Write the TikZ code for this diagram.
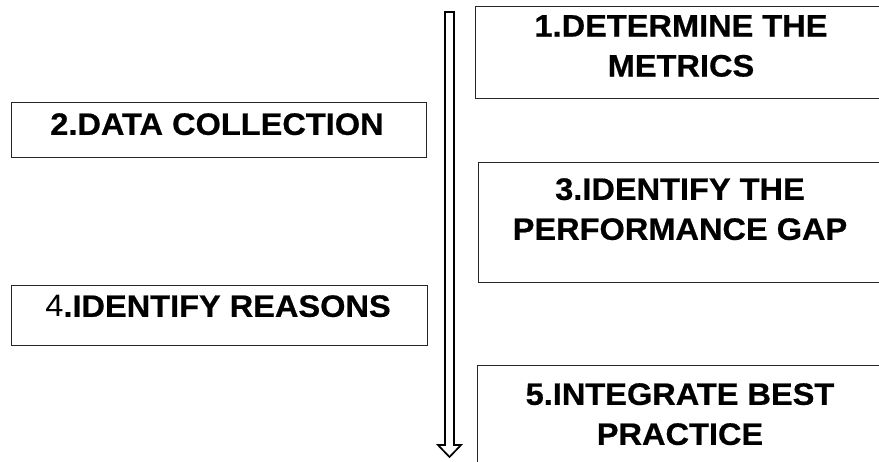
\documentclass[tikz,border=0pt]{standalone}
\usepackage{fontspec}
\newfontfamily\stepfont[FakeStretch=1.05, BoldFeatures={FakeBold=0.6}]{Liberation Sans}
\begin{document}
\begin{tikzpicture}[x=1pt,y=-1pt,
  stepbox/.style={draw=black!85, line width=1.2pt, fill=none, inner sep=0pt, anchor=north west},
  steptext/.style={font=\stepfont\bfseries\fontsize{31}{40}\selectfont, align=center, inner sep=0pt, anchor=north},
  flow/.style={draw=black, line width=1.7pt, line join=miter}]
\useasboundingbox (0,0) rectangle (879,461);
\clip (0,0) rectangle (879,461);

% step boxes (right-hand column runs past the page edge)
\node[stepbox, minimum width=411pt, minimum height=92pt]  (b1) at (475,6)   {};
\node[stepbox, minimum width=415pt, minimum height=55pt]  (b2) at (11,102)  {};
\node[stepbox, minimum width=408pt, minimum height=120pt] (b3) at (478,162) {};
\node[stepbox, minimum width=416pt, minimum height=60pt]  (b4) at (11,285)  {};
\node[stepbox, minimum width=409pt, minimum height=120pt] (b5) at (477,365) {};

% step labels
\node[steptext] (t1) at (681,15)    {1.DETERMINE THE\\METRICS};
\node[steptext] (t2) at (217,113)   {2.DATA COLLECTION};
\node[steptext] (t3) at (680,178)   {3.IDENTIFY THE\\PERFORMANCE GAP};
\node[steptext] (t4) at (218,295)   {{\mdseries 4}.IDENTIFY REASONS};
\node[steptext] (t5) at (680,383)   {5.INTEGRATE BEST\\PRACTICE};

% hollow downward arrow between the columns
\coordinate (atop) at (449.5,12);
\coordinate (atip) at (449.5,457);
\draw[flow] ([xshift=-4.5pt]atop) -- ([xshift=4.5pt]atop)
  -- ([xshift=4.5pt,yshift=12pt]atip) -- ([xshift=11.5pt,yshift=12pt]atip)
  -- (atip) -- ([xshift=-11.5pt,yshift=12pt]atip)
  -- ([xshift=-4.5pt,yshift=12pt]atip) -- cycle;
\end{tikzpicture}
\end{document}
